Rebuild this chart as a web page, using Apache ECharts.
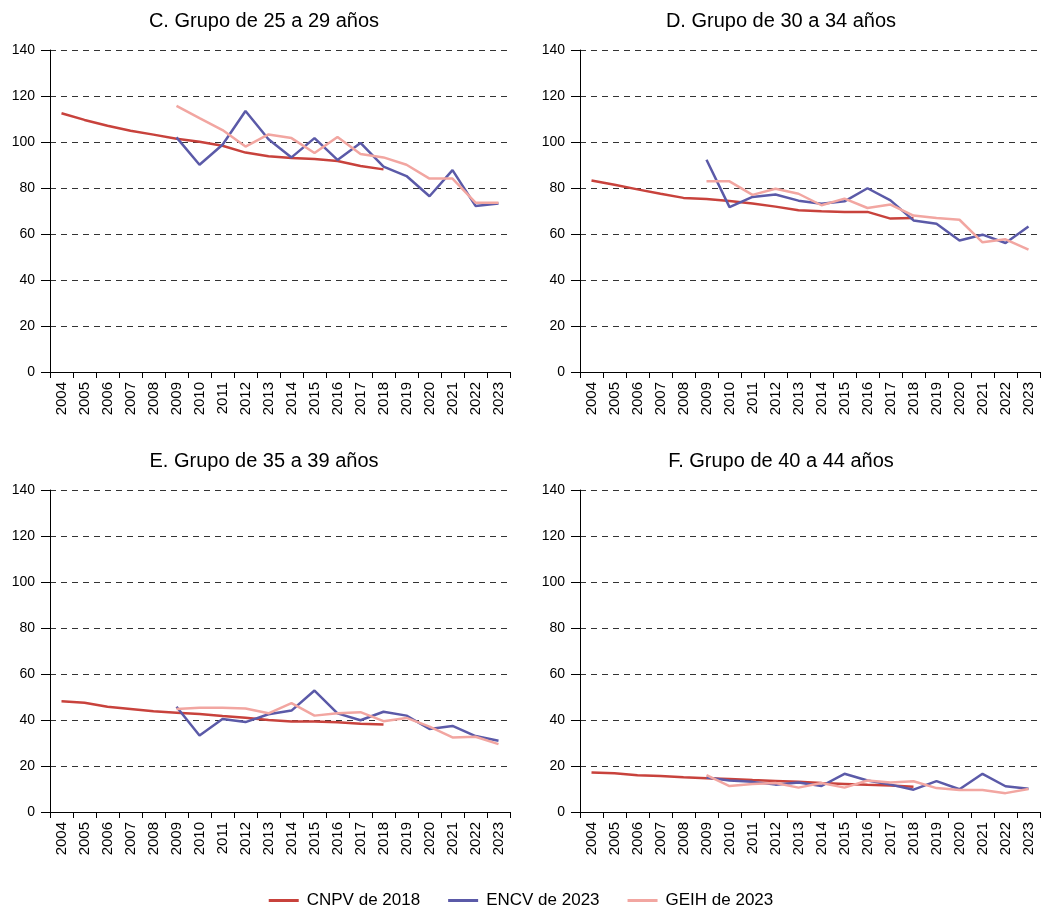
<!DOCTYPE html>
<html><head><meta charset="utf-8">
<script src="https://cdn.jsdelivr.net/npm/echarts@6/dist/echarts.min.js"></script>
<style>html,body{margin:0;padding:0;background:#fff}#c{width:1042px;height:906px}</style>
</head><body><div id="c"></div>
<script>
const years = ['2004','2005','2006','2007','2008','2009','2010','2011','2012','2013','2014','2015','2016','2017','2018','2019','2020','2021','2022','2023'];
const panelTitles = ['C. Grupo de 25 a 29 años','D. Grupo de 30 a 34 años','E. Grupo de 35 a 39 años','F. Grupo de 40 a 44 años'];
const seriesNames = ['CNPV de 2018','ENCV de 2023','GEIH de 2023'];
const yTicks = [0,20,40,60,80,100,120,140];
const _ = null;
// Panel C
const cnpvC = [112.5,109.6,107.1,104.9,103.2,101.4,100.1,98.4,95.4,93.8,93.0,92.6,91.7,89.6,88.1,_,_,_,_,_];
const encvC = [_,_,_,_,_,102.0,90.1,98.8,113.5,101.2,93.3,101.7,92.2,99.6,89.3,85.2,76.4,87.8,72.2,73.3];
const geihC = [_,_,_,_,_,115.7,110.4,105.2,98.0,103.3,101.7,95.2,102.2,94.8,93.3,90.1,84.1,84.1,73.6,73.6];
// Panel D
const cnpvD = [83.3,81.4,79.4,77.5,75.7,75.2,74.3,73.3,71.9,70.3,69.9,69.6,69.6,66.7,67.0,_,_,_,_,_];
const encvD = [_,_,_,_,_,92.3,71.7,76.1,77.2,74.5,73.2,74.2,79.9,74.6,65.9,64.5,57.2,59.7,56.1,63.3];
const geihD = [_,_,_,_,_,82.9,82.9,77.0,79.7,77.5,72.5,75.4,71.3,72.8,68.0,67.0,66.2,56.4,57.7,53.2];
// Panel E
const cnpvE = [48.1,47.5,45.8,44.8,43.8,43.2,42.6,41.7,41.0,40.0,39.4,39.3,39.0,38.4,38.0,_,_,_,_,_];
const encvE = [_,_,_,_,_,45.8,33.3,40.4,39.1,42.5,44.1,52.8,42.9,39.9,43.6,41.9,36.1,37.4,33.0,31.0];
const geihE = [_,_,_,_,_,44.8,45.3,45.3,45.0,42.9,47.3,41.9,42.9,43.4,39.5,40.9,37.1,32.4,32.7,29.5];
// Panel F
const cnpvF = [17.2,16.8,16.0,15.6,15.1,14.7,14.4,13.9,13.5,13.1,12.6,12.2,11.8,11.5,11.0,_,_,_,_,_];
const encvF = [_,_,_,_,_,15.0,13.7,13.1,11.9,12.8,11.3,16.6,13.7,11.9,9.7,13.4,9.9,16.6,11.2,10.1];
const geihF = [_,_,_,_,_,16.0,11.3,12.2,12.6,10.6,12.6,10.6,13.7,12.8,13.4,10.4,9.6,9.6,8.2,10.0];

const panels = [[cnpvC,encvC,geihC],[cnpvD,encvD,geihD],[cnpvE,encvE,geihE],[cnpvF,encvF,geihF]];
const colors = ['#c8423c','#5b5aa8','#f2a6a1'];
const FONT = 'Liberation Sans, Arial, sans-serif';

const gridPos = [
  {left:50, top:50}, {left:580, top:50},
  {left:50, top:490}, {left:580, top:490}
];
const titlePos = [{x:264, y:11},{x:781, y:11},{x:264, y:451},{x:781, y:451}];

const option = {
  animation: false,
  backgroundColor: '#fff',
  textStyle: {fontFamily: FONT},
  title: panelTitles.map((t,i)=>({
    text: t, left: titlePos[i].x, top: titlePos[i].y, textAlign: 'center', padding: 0,
    textStyle: {fontSize: 20, fontWeight: 'normal', color: '#000', fontFamily: FONT}
  })),
  legend: {
    data: seriesNames, top: 887, left: 'center', icon: 'rect', itemWidth: 30, itemHeight: 3, itemGap: 28,
    textStyle: {fontSize: 17, color: '#000', fontFamily: FONT, padding: [0,0,0,3]}
  },
  grid: gridPos.map(g=>({left:g.left, top:g.top, width:460, height:322, containLabel:false})),
  xAxis: gridPos.map((g,i)=>({
    type:'category', gridIndex:i, data: years, boundaryGap: true,
    axisLine:{show:true, lineStyle:{color:'#000', width:1}},
    axisTick:{show:true, interval:0, length:6, lineStyle:{color:'#000'}},
    axisLabel:{interval:0, rotate:90, fontSize:15, color:'#000', margin:10, fontFamily: FONT},
    splitLine:{show:false}
  })),
  yAxis: gridPos.map((g,i)=>({
    type:'value', gridIndex:i, min: yTicks[0], max: yTicks[yTicks.length-1], interval: yTicks[1]-yTicks[0],
    axisLine:{show:true, lineStyle:{color:'#000', width:1}},
    axisTick:{show:true, length:9, lineStyle:{color:'#000'}},
    axisLabel:{fontSize:14, color:'#000', margin:15, fontFamily: FONT},
    splitLine:{show:true, lineStyle:{color:'#333', type:[6,5], width:1}}
  })),
  series: []
};
panels.forEach((arrs,i)=>{
  arrs.forEach((d,k)=>{
    option.series.push({
      name: seriesNames[k], type:'line', xAxisIndex:i, yAxisIndex:i, data:d,
      symbol:'none', showSymbol:false, connectNulls:false,
      color: colors[k], lineStyle:{color:colors[k], width:2.5}, z: 2+k
    });
  });
});
const chart = echarts.init(document.getElementById('c'), null, {renderer:'canvas'});
chart.setOption(option);
</script></body></html>
